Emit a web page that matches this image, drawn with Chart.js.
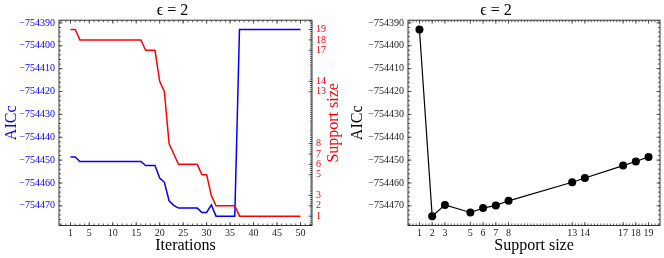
<!DOCTYPE html>
<html>
<head>
<meta charset="utf-8">
<script src="https://cdn.jsdelivr.net/npm/chart.js@4/dist/chart.umd.min.js"></script>
<style>
  body { margin: 0; background: #fff; }
  #wrap { position: relative; width: 664px; height: 258px; overflow: hidden; }
  canvas { position: absolute; top: 0; }
  #left { left: 0; }
  #right { left: 332px; }
</style>
</head>
<body>
<div id="wrap">
  <canvas id="left" width="345" height="258"></canvas>
  <canvas id="right" width="332" height="258"></canvas>
</div>
<script>
// iteration trace
const iterations = [1, 2, 3, 4, 5, 6, 7, 8, 9, 10, 11, 12, 13, 14, 15, 16, 17, 18, 19, 20,
  21, 22, 23, 24, 25, 26, 27, 28, 29, 30, 31, 32, 33, 34, 35, 36, 37, 38, 39, 40,
  41, 42, 43, 44, 45, 46, 47, 48, 49, 50];
const aiccByIteration = [
  -754448.6, -754448.6, -754450.6, -754450.6, -754450.6, -754450.6, -754450.6, -754450.6, -754450.6, -754450.6,
  -754450.6, -754450.6, -754450.6, -754450.6, -754450.6, -754450.6, -754452.4, -754452.4, -754452.4, -754457.8,
  -754459.7, -754467.8, -754469.8, -754471.0, -754471.0, -754471.0, -754471.0, -754471.0, -754472.9, -754472.9,
  -754469.6, -754474.5, -754474.5, -754474.5, -754474.5, -754474.5, -754392.9, -754392.9, -754392.9, -754392.9,
  -754392.9, -754392.9, -754392.9, -754392.9, -754392.9, -754392.9, -754392.9, -754392.9, -754392.9, -754392.9];
const supportByIteration = [
  19, 19, 18, 18, 18, 18, 18, 18, 18, 18,
  18, 18, 18, 18, 18, 18, 17, 17, 17, 14,
  13, 8, 7, 6, 6, 6, 6, 6, 5, 5,
  3, 2, 2, 2, 2, 2, 1, 1, 1, 1,
  1, 1, 1, 1, 1, 1, 1, 1, 1, 1];

// AICc against support size
const supportSizes = [1, 2, 3, 5, 6, 7, 8, 13, 14, 17, 18, 19];
const aiccBySupport = [-754392.9, -754474.5, -754469.6, -754472.9, -754471.0, -754469.8,
  -754467.8, -754459.7, -754457.8, -754452.4, -754450.6, -754448.6];

// tick labels
const iterTicks = [1, 5, 10, 15, 20, 25, 30, 35, 40, 45, 50];
const aiccTicks = [-754390, -754400, -754410, -754420, -754430, -754440, -754450, -754460, -754470];

const SERIF = "'Liberation Serif', 'DejaVu Serif', serif";
const tickFont = { family: SERIF, size: 10 };
const labelFont = { family: SERIF, size: 16, lineHeight: 1.2 };
const fmtAicc = v => "\u2212" + Math.abs(v);

function steps(from, to, step) {
  const out = [];
  for (let v = from; v <= to + 1e-9; v += step) out.push(+v.toFixed(4));
  return out;
}

// box around the plot, inward tick marks, right-hand label
const frame = {
  id: "frame",
  afterDraw(chart, args, opts) {
    const { ctx, chartArea: a, scales } = chart;
    ctx.save();
    ctx.strokeStyle = "#333";
    ctx.lineWidth = 1;
    ctx.strokeRect(a.left, a.top, a.right - a.left, a.bottom - a.top);
    ctx.lineWidth = 0.8;
    opts.sides.forEach(s => {
      const sc = scales[s.scale];
      [[s.major, 3.5], [s.minor, 2]].forEach(([vals, len]) => {
        vals.forEach(v => {
          if (v < sc.min || v > sc.max) return;
          const p = sc.getPixelForValue(v);
          ctx.beginPath();
          if (s.side === "bottom") { ctx.moveTo(p, a.bottom); ctx.lineTo(p, a.bottom - len); }
          if (s.side === "top") { ctx.moveTo(p, a.top); ctx.lineTo(p, a.top + len); }
          if (s.side === "left") { ctx.moveTo(a.left, p); ctx.lineTo(a.left + len, p); }
          if (s.side === "right") { ctx.moveTo(a.right, p); ctx.lineTo(a.right - len, p); }
          ctx.stroke();
        });
      });
    });
    if (opts.rightTitle) {
      ctx.translate(opts.rightTitle.x, (a.top + a.bottom) / 2);
      ctx.rotate(-Math.PI / 2);
      ctx.font = "16px " + SERIF;
      ctx.fillStyle = opts.rightTitle.color;
      ctx.textAlign = "center";
      ctx.textBaseline = "middle";
      ctx.fillText(opts.rightTitle.text, 0, 0);
    }
    ctx.restore();
  }
};

const titleOpts = {
  display: true,
  text: "\u03f5 = 2",
  color: "#000",
  font: { family: SERIF, size: 16, weight: "normal", lineHeight: 1.2 },
  padding: { top: 1, bottom: 0 }
};

const noGrid = { display: false, drawTicks: false };

new Chart(document.getElementById("left"), {
  type: "line",
  data: {
    datasets: [
      {
        label: "AICc",
        data: iterations.map((x, i) => ({ x, y: aiccByIteration[i] })),
        borderColor: "#0000ff",
        borderWidth: 1.5,
        pointRadius: 0,
        yAxisID: "y",
        order: 2
      },
      {
        label: "Support size",
        data: iterations.map((x, i) => ({ x, y: supportByIteration[i] })),
        borderColor: "#ff0000",
        borderWidth: 1.5,
        pointRadius: 0,
        yAxisID: "y2",
        order: 1
      }
    ]
  },
  options: {
    responsive: false,
    animation: false,
    layout: { padding: 0 },
    plugins: {
      legend: { display: false },
      tooltip: { enabled: false },
      title: titleOpts,
      frame: {
        sides: [
          { scale: "x", side: "bottom", major: iterTicks, minor: steps(-1, 52, 1) },
          { scale: "x", side: "top", major: iterTicks, minor: steps(-1, 52, 1) },
          { scale: "y", side: "left", major: aiccTicks, minor: steps(-754478, -754390, 2) },
          { scale: "y2", side: "right", major: supportSizes, minor: steps(0.2, 19.8, 0.2) }
        ],
        rightTitle: { text: "Support size", color: "#ff0000", x: 334 }
      }
    },
    scales: {
      x: {
        type: "linear",
        min: -1.45,
        max: 52.45,
        afterBuildTicks: s => { s.ticks = iterTicks.map(v => ({ value: v })); },
        afterFit: s => { s.height = 32.5; },
        grid: noGrid,
        border: { display: false },
        ticks: { font: tickFont, color: "#222", padding: 2, maxRotation: 0, autoSkip: false },
        title: { display: true, text: "Iterations", color: "#000", font: labelFont, padding: { top: 0, bottom: 3 } }
      },
      y: {
        position: "left",
        min: -754478.6,
        max: -754388.8,
        afterBuildTicks: s => { s.ticks = aiccTicks.map(v => ({ value: v })); },
        afterFit: s => { s.width = 59; },
        grid: noGrid,
        border: { display: false },
        ticks: { font: tickFont, color: "#0000ff", padding: 4, callback: fmtAicc },
        title: { display: true, text: "AICc", color: "#0000ff", font: labelFont, padding: { top: 2, bottom: 0 } }
      },
      y2: {
        position: "right",
        min: 0.1,
        max: 19.9,
        afterBuildTicks: s => { s.ticks = supportSizes.map(v => ({ value: v })); },
        afterFit: s => { s.width = 33; },
        grid: noGrid,
        border: { display: false },
        ticks: { font: tickFont, color: "#ff0000", padding: 4 }
      }
    }
  },
  plugins: [frame]
});

new Chart(document.getElementById("right"), {
  type: "line",
  data: {
    datasets: [
      {
        label: "AICc",
        data: supportSizes.map((x, i) => ({ x, y: aiccBySupport[i] })),
        borderColor: "#000",
        borderWidth: 1.2,
        pointRadius: 4,
        pointBackgroundColor: "#000",
        pointBorderColor: "#000",
        pointBorderWidth: 0
      }
    ]
  },
  options: {
    responsive: false,
    animation: false,
    layout: { padding: { right: 4 } },
    plugins: {
      legend: { display: false },
      tooltip: { enabled: false },
      title: titleOpts,
      frame: {
        sides: [
          { scale: "x", side: "bottom", major: supportSizes, minor: steps(0.25, 19.75, 0.25) },
          { scale: "x", side: "top", major: supportSizes, minor: steps(0.25, 19.75, 0.25) },
          { scale: "y", side: "left", major: aiccTicks, minor: steps(-754478, -754390, 2) },
          { scale: "y", side: "right", major: aiccTicks, minor: steps(-754478, -754390, 2) }
        ]
      }
    },
    scales: {
      x: {
        type: "linear",
        min: 0.1,
        max: 19.9,
        afterBuildTicks: s => { s.ticks = supportSizes.map(v => ({ value: v })); },
        afterFit: s => { s.height = 32.5; },
        grid: noGrid,
        border: { display: false },
        ticks: { font: tickFont, color: "#222", padding: 2, maxRotation: 0, autoSkip: false },
        title: { display: true, text: "Support size", color: "#000", font: labelFont, padding: { top: 0, bottom: 3 } }
      },
      y: {
        position: "left",
        min: -754478.6,
        max: -754388.8,
        afterBuildTicks: s => { s.ticks = aiccTicks.map(v => ({ value: v })); },
        afterFit: s => { s.width = 76; },
        grid: noGrid,
        border: { display: false },
        ticks: { font: tickFont, color: "#222", padding: 4, callback: fmtAicc },
        title: { display: true, text: "AICc", color: "#000", font: labelFont, padding: { top: 16, bottom: 0 } }
      }
    }
  },
  plugins: [frame]
});
</script>
</body>
</html>
